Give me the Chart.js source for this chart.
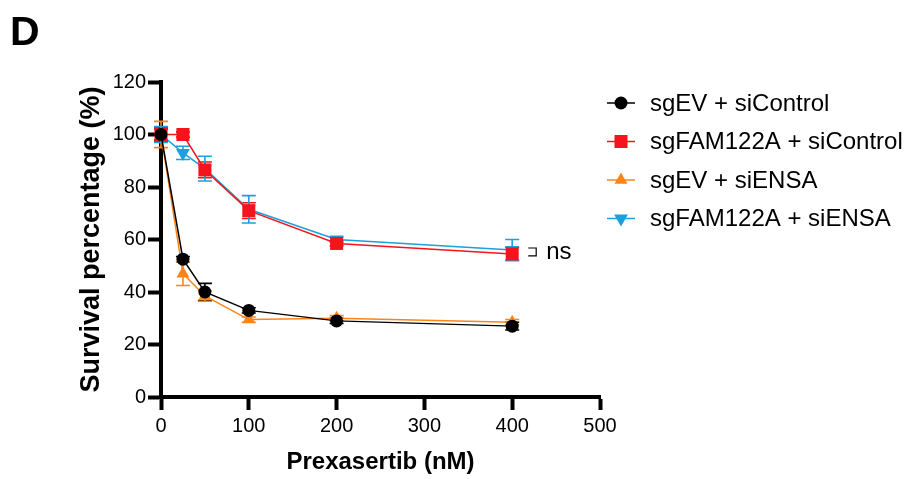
<!DOCTYPE html>
<html>
<head>
<meta charset="utf-8">
<script src="https://cdn.jsdelivr.net/npm/chart.js@4.4.1/dist/chart.umd.min.js"></script>
<style>
  html, body { margin: 0; padding: 0; background: #fff; }
  #wrap { width: 909px; height: 479px; }
</style>
</head>
<body>
<div id="wrap"><canvas id="chart" width="909" height="479"></canvas></div>
<script>
// Данные с графика (Prexasertib, nM)
const doses = [0, 25, 50, 100, 200, 400];

const seriesNames = ['sgEV + siControl', 'sgFAM122A + siControl', 'sgEV + siENSA', 'sgFAM122A + siENSA'];

const evControl = [100, 52.5, 40, 33, 29, 27];
const evControlErr = [2.5, 1, 3.3, 1, 1, 1.5];

const famControl = [100, 100, 86.5, 71, 58.5, 54.5];
const famControlErr = [2, 1, 3, 3, 1, 2.5];

const evEnsa = [100, 47, 38.5, 29.5, 30, 28.5];
const evEnsaErr = [5, 4.5, 2, 1, 1, 1];

const famEnsa = [100, 93, 87, 71.5, 60, 56];
const famEnsaErr = [3, 2.5, 4.7, 5.2, 1, 4];

const xTicks = [0, 100, 200, 300, 400, 500];
const yTicks = [0, 20, 40, 60, 80, 100, 120];

const FONT = "'Liberation Sans', Arial, Helvetica, sans-serif";

const colors = ['#000000', '#f5141c', '#ff8418', '#1aa0dc'];
const styles = ['circle', 'rect', 'triangle', 'triangle'];
const rotations = [0, 0, 0, 180];
const radii = [6.5, 9.2, 7.5, 8];
const values = [evControl, famControl, evEnsa, famEnsa];
const errors = [evControlErr, famControlErr, evEnsaErr, famEnsaErr];

const toPoints = arr => arr.map((v, i) => ({ x: doses[i], y: v }));

// Планки погрешностей
const errorBars = {
    id: 'errorBars',
    beforeDatasetsDraw(chart) {
        const { ctx, scales: { x, y } } = chart;
        ctx.save();
        ctx.lineWidth = 1.6;
        values.forEach((vals, d) => {
            ctx.strokeStyle = colors[d];
            vals.forEach((v, i) => {
                const px = x.getPixelForValue(doses[i]);
                const top = y.getPixelForValue(v + errors[d][i]);
                const bot = y.getPixelForValue(v - errors[d][i]);
                ctx.beginPath();
                ctx.moveTo(px, top); ctx.lineTo(px, bot);
                ctx.moveTo(px - 7, top); ctx.lineTo(px + 7, top);
                ctx.moveTo(px - 7, bot); ctx.lineTo(px + 7, bot);
                ctx.stroke();
            });
        });
        ctx.restore();
    }
};

// Легенда, буква панели и "ns"
const extras = {
    id: 'extras',
    afterDraw(chart) {
        const { ctx, scales: { x, y } } = chart;
        ctx.save();
        ctx.fillStyle = '#000';
        ctx.font = 'bold 41px ' + FONT;
        ctx.textBaseline = 'alphabetic';
        ctx.fillText('D', 10, 45);

        // легенда
        ctx.font = '24px ' + FONT;
        ctx.textBaseline = 'middle';
        seriesNames.forEach((name, i) => {
            const cy = 103 + i * 38.5;
            ctx.strokeStyle = colors[i];
            ctx.lineWidth = 1.5;
            ctx.beginPath();
            ctx.moveTo(607, cy); ctx.lineTo(635, cy);
            ctx.stroke();
            ctx.fillStyle = colors[i];
            Chart.helpers.drawPoint(ctx, {
                pointStyle: styles[i], rotation: rotations[i],
                radius: radii[i], borderWidth: 0
            }, 621, cy);
            ctx.fillStyle = '#000';
            ctx.fillText(name, 650, cy + 1);
        });

        // скобка ns
        const bx = x.getPixelForValue(400) + 16;
        const y1 = y.getPixelForValue(famEnsa[5]) - 2;
        const y2 = y.getPixelForValue(famControl[5]) + 2;
        ctx.strokeStyle = '#000';
        ctx.lineWidth = 1.2;
        ctx.beginPath();
        ctx.moveTo(bx, y1); ctx.lineTo(bx + 8, y1); ctx.lineTo(bx + 8, y2); ctx.lineTo(bx, y2);
        ctx.stroke();
        ctx.fillText('ns', bx + 18, (y1 + y2) / 2);
        ctx.restore();
    }
};

const datasets = values.map((vals, i) => ({
    label: seriesNames[i],
    data: toPoints(vals),
    borderColor: colors[i],
    backgroundColor: colors[i],
    borderWidth: 1.5,
    pointStyle: styles[i],
    rotation: rotations[i],
    pointRadius: radii[i],
    pointBorderWidth: 0,
    pointBackgroundColor: colors[i],
    tension: 0,
    clip: false
}));

new Chart(document.getElementById('chart'), {
    type: 'line',
    data: { datasets },
    plugins: [errorBars, extras],
    options: {
        responsive: false,
        animation: false,
        layout: { padding: { left: 0, top: 82, right: 309, bottom: 0 } },
        plugins: { legend: { display: false }, tooltip: { enabled: false } },
        scales: {
            x: {
                type: 'linear',
                min: 0, max: 500,
                afterFit: s => { s.height = 82; },
                afterBuildTicks: s => { s.ticks = xTicks.map(v => ({ value: v })); },
                border: { display: true, color: '#000', width: 4 },
                grid: { drawOnChartArea: false, drawTicks: true, tickLength: 13, tickWidth: 4, tickColor: '#000' },
                ticks: { color: '#000', padding: 4, maxRotation: 0, font: { family: FONT, size: 20 } },
                title: {
                    display: true, text: 'Prexasertib (nM)', color: '#000',
                    font: { family: FONT, size: 24, weight: 'bold' },
                    padding: { top: 0, bottom: 2 }
                }
            },
            y: {
                min: 0, max: 120,
                afterFit: s => { s.width = 161; },
                afterBuildTicks: s => { s.ticks = yTicks.map(v => ({ value: v })); },
                border: { display: true, color: '#000', width: 4 },
                grid: { drawOnChartArea: false, drawTicks: true, tickLength: 13, tickWidth: 4, tickColor: '#000' },
                ticks: { color: '#000', padding: 2, font: { family: FONT, size: 20 } },
                title: {
                    display: true, text: 'Survival percentage (%)', color: '#000',
                    font: { family: FONT, size: 27, weight: 'bold' },
                    padding: { top: 75, bottom: 0 }
                }
            }
        }
    }
});
</script>
</body>
</html>
